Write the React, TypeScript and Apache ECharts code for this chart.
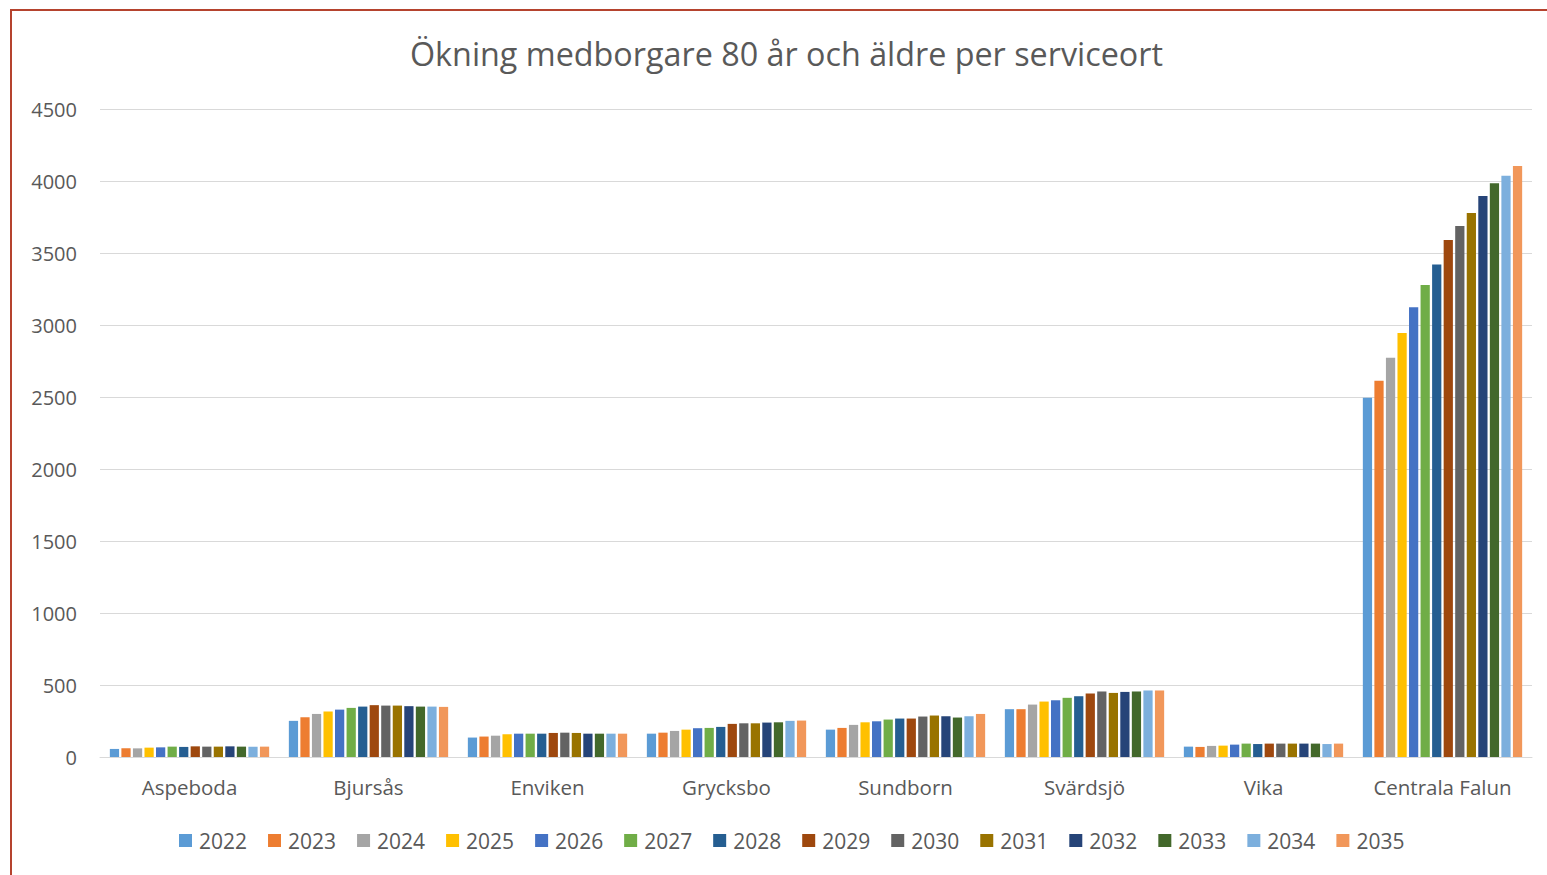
import React, { useEffect, useRef } from "react";
import * as echarts from "echarts";

const title = "Ökning medborgare 80 år och äldre per serviceort";
const categories = ["Aspeboda", "Bjursås", "Enviken", "Grycksbo", "Sundborn", "Svärdsjö", "Vika", "Centrala Falun"];
const years = ["2022", "2023", "2024", "2025", "2026", "2027", "2028", "2029", "2030", "2031", "2032", "2033", "2034", "2035"];
const colors = ["#5B9BD5", "#ED7D31", "#A5A5A5", "#FFC000", "#4472C4", "#70AD47", "#255E91", "#9E480E", "#636363", "#997300", "#264478", "#43682B", "#7CAFDD", "#F1975A"];

// values per place, one per year 2022..2035
const aspeboda = [56, 60, 60, 65, 67, 72, 70, 74, 72, 72, 74, 72, 72, 72];
const bjursas = [251, 276, 299, 316, 329, 341, 350, 360, 357, 357, 353, 350, 350, 348];
const enviken = [135, 142, 148, 158, 162, 162, 162, 167, 169, 167, 162, 162, 162, 162];
const grycksbo = [162, 169, 181, 190, 200, 202, 209, 230, 234, 234, 239, 241, 251, 253];
const sundborn = [190, 202, 223, 241, 248, 260, 267, 267, 281, 288, 283, 274, 283, 299];
const svardsjo = [332, 332, 364, 385, 394, 411, 422, 441, 455, 445, 452, 455, 462, 462];
const vika = [72, 70, 77, 79, 86, 93, 90, 93, 93, 93, 93, 93, 90, 93];
const centralaFalun = [2495, 2613, 2773, 2944, 3123, 3278, 3421, 3590, 3687, 3778, 3896, 3984, 4037, 4104];

const places = [aspeboda, bjursas, enviken, grycksbo, sundborn, svardsjo, vika, centralaFalun];

const FONT = "'Open Sans', sans-serif";
const TXT = "#595959";

export default function App() {
  const ref = useRef<HTMLDivElement>(null);
  useEffect(() => {
    if (!ref.current) return;
    const chart = echarts.init(ref.current, undefined, { renderer: "svg" });
    const series = years.map((y, i) => ({
      name: y,
      type: "bar",
      data: places.map((p) => p[i]),
      itemStyle: { color: colors[i] },
      barGap: "25%",
      barCategoryGap: "11%",
    }));
    chart.setOption({
      animation: false,
      backgroundColor: "#ffffff",
      textStyle: { fontFamily: FONT },
      title: {
        text: title,
        left: 405,
        top: 32,
        textStyle: { fontFamily: FONT, fontSize: 32.3, fontWeight: "normal", color: TXT },
      },
      graphic: [
        {
          type: "rect",
          shape: { x: 11, y: 10, width: 1700, height: 1000 },
          style: { fill: "none", stroke: "#B5432E", lineWidth: 2 },
          silent: true,
        },
      ],
      legend: {
        data: years,
        bottom: 24,
        left: 179,
        padding: 0,
        itemWidth: 13,
        itemHeight: 13,
        itemGap: 21,
        icon: "rect",
        textStyle: { fontFamily: FONT, fontSize: 21, color: TXT, padding: [0, 0, 0, 2] },
      },
      grid: { left: 100, right: 15, top: 109, bottom: 118, containLabel: false },
      xAxis: {
        type: "category",
        data: categories,
        axisLine: { lineStyle: { color: "#d9d9d9", width: 1 } },
        axisTick: { show: false },
        axisLabel: { fontFamily: FONT, fontSize: 20.5, color: TXT, margin: 19, interval: 0 },
      },
      yAxis: {
        type: "value",
        min: 0,
        max: 4500,
        interval: 500,
        axisLine: { show: false },
        axisTick: { show: false },
        splitLine: { lineStyle: { color: "#d9d9d9", width: 1 } },
        axisLabel: { fontFamily: FONT, fontSize: 20, color: TXT, margin: 23, formatter: (v: number) => String(v) },
      },
      series,
    });
    return () => chart.dispose();
  }, []);
  return <div ref={ref} style={{ position: "fixed", left: 0, top: 0, width: 1547, height: 875 }} />;
}
